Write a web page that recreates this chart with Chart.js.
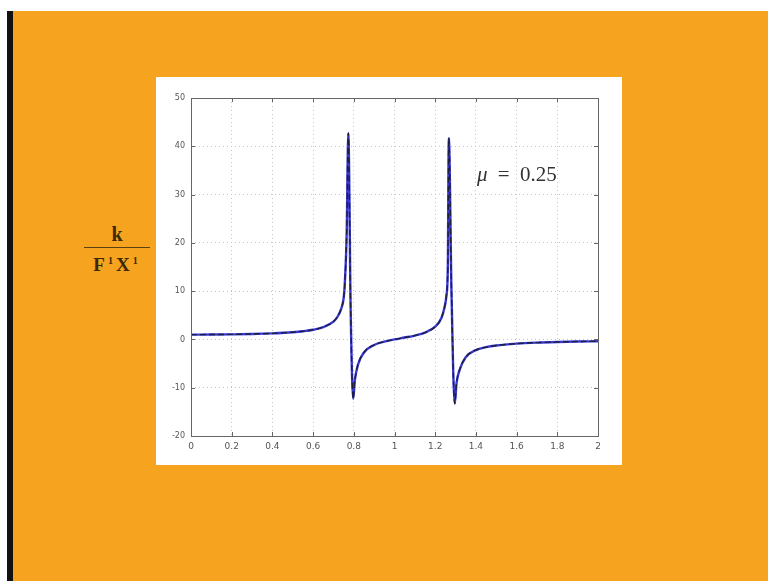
<!DOCTYPE html>
<html>
<head>
<meta charset="utf-8">
<script src="https://cdn.jsdelivr.net/npm/chart.js@4/dist/chart.umd.min.js"></script>
<style>
  html, body { margin: 0; padding: 0; }
  body { width: 768px; height: 581px; position: relative; background: #ffffff; overflow: hidden; }
  #slide { position: absolute; left: 13px; top: 11px; width: 755px; height: 570px; background: #F6A420; }
  #bar { position: absolute; left: 7px; top: 11px; width: 6px; height: 570px; background: #111; }
  #box { position: absolute; left: 156px; top: 77px; width: 466px; height: 388px; background: #fff; }
  #frac { position: absolute; left: 84px; top: 224px; width: 66px; text-align: center;
          font-family: "Liberation Serif", serif; font-weight: bold; color: #3b2a05; }
  #frac .num { font-size: 20px; line-height: 21px; }
  #frac .line { height: 1px; background: #5a4210; margin: 2px 0 3px 0; }
  #frac .den { font-size: 19px; line-height: 20px; letter-spacing: 3px; }
  #mu { position: absolute; left: 477px; top: 162px; font-family: "Liberation Serif", serif;
        font-size: 21px; color: #333; word-spacing: 5px; }
</style>
</head>
<body>
<div id="slide"></div>
<div id="bar"></div>
<div id="frac"><div class="num">k</div><div class="line"></div><div class="den">F<sup style="font-size:10px">1</sup>X<sup style="font-size:10px">1</sup></div></div>
<div id="box"><canvas id="plot" width="466" height="388"></canvas></div>
<div id="mu"><i>μ</i> = 0.25</div>
<script>
// frequency ratio values
var freq = [0, 0.1, 0.2, 0.3, 0.4, 0.5, 0.55, 0.6, 0.65, 0.7, 0.72, 0.74, 0.75, 0.755, 0.765, 0.773,
            0.785, 0.797, 0.805, 0.82, 0.85, 0.9, 0.95, 1.0, 1.05, 1.1, 1.15, 1.2, 1.23, 1.245, 1.255,
            1.262, 1.267, 1.28, 1.296, 1.305, 1.32, 1.35, 1.4, 1.45, 1.5, 1.6, 1.7, 1.8, 1.9, 2.0];
// amplitude ratio, mu = 0.25
var amp = [1.0, 1.01, 1.05, 1.12, 1.26, 1.5, 1.7, 2.0, 2.55, 3.7, 4.7, 6.6, 8.5, 11, 22, 42.7,
           5, -12.3, -8.5, -5.3, -2.7, -1.15, -0.45, 0, 0.39, 0.8, 1.42, 2.64, 4.4, 6.5, 9,
           15, 41.7, 10, -13.3, -9, -6.3, -3.7, -2.2, -1.6, -1.25, -0.87, -0.66, -0.53, -0.44, -0.38];
var xTicks = [0, 0.2, 0.4, 0.6, 0.8, 1, 1.2, 1.4, 1.6, 1.8, 2];
var yTicks = [-20, -10, 0, 10, 20, 30, 40, 50];

var pts = freq.map(function(f, i) { return { x: f, y: amp[i] }; });

var boxPlugin = {
  id: 'boxPlugin',
  afterDraw: function(chart) {
    var ctx = chart.ctx, a = chart.chartArea;
    var sx = chart.scales.x, sy = chart.scales.y;
    ctx.save();
    ctx.strokeStyle = '#666';
    ctx.lineWidth = 1;
    ctx.strokeRect(a.left + 0.5, a.top + 0.5, a.right - a.left, a.bottom - a.top);
    ctx.beginPath();
    xTicks.forEach(function(t) {
      var px = Math.round(sx.getPixelForValue(t)) + 0.5;
      ctx.moveTo(px, a.bottom); ctx.lineTo(px, a.bottom - 4);
      ctx.moveTo(px, a.top); ctx.lineTo(px, a.top + 4);
    });
    yTicks.forEach(function(t) {
      var py = Math.round(sy.getPixelForValue(t)) + 0.5;
      ctx.moveTo(a.left, py); ctx.lineTo(a.left + 4, py);
      ctx.moveTo(a.right, py); ctx.lineTo(a.right - 4, py);
    });
    ctx.stroke();
    ctx.restore();
  }
};

var plot = new Chart(document.getElementById('plot').getContext('2d'), {
  type: 'line',
  data: {
    datasets: [{
      // dark dashed trace, drawn on top
      data: pts,
      borderColor: '#1e1e40',
      borderWidth: 1.4,
      borderDash: [6, 3],
      pointRadius: 0,
      cubicInterpolationMode: 'monotone'
    }, {
      data: pts,
      borderColor: '#3838d4',
      borderWidth: 2.4,
      pointRadius: 0,
      cubicInterpolationMode: 'monotone'
    }]
  },
  options: {
    responsive: false,
    animation: false,
    layout: { padding: { left: 0, top: 21, right: 24, bottom: 0 } },
    plugins: { legend: { display: false }, tooltip: { enabled: false } },
    scales: {
      x: {
        type: 'linear', min: 0, max: 2,
        afterFit: function(s) { s.height = 29; },
        afterBuildTicks: function(s) { s.ticks = xTicks.map(function(v) { return { value: v }; }); },
        ticks: { padding: 5, color: '#555', font: { size: 9, family: 'DejaVu Sans' },
                 maxRotation: 0, callback: function(v) { return String(+v.toFixed(1)); } },
        grid: { color: '#c4c4c4', tickLength: 0, drawTicks: false },
        border: { display: false, dash: [1, 3] }
      },
      y: {
        type: 'linear', min: -20, max: 50,
        afterFit: function(s) { s.width = 35; },
        afterBuildTicks: function(s) { s.ticks = yTicks.map(function(v) { return { value: v }; }); },
        ticks: { padding: 6, color: '#555', font: { size: 8, family: 'DejaVu Sans' } },
        grid: { color: '#c4c4c4', tickLength: 0, drawTicks: false },
        border: { display: false, dash: [1, 3] }
      }
    }
  },
  plugins: [boxPlugin]
});
</script>
</body>
</html>
